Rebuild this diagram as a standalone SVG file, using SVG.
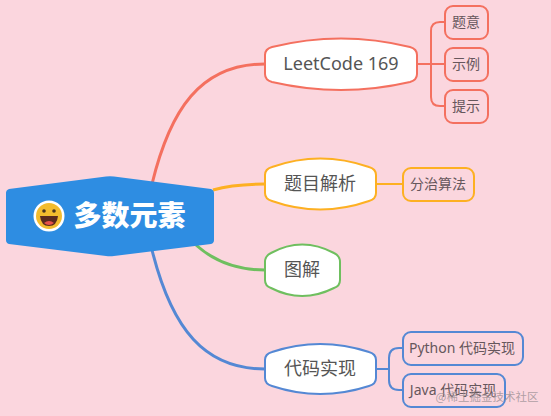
<svg xmlns="http://www.w3.org/2000/svg" width="551" height="416" viewBox="0 0 551 416">
<style>
text{font-family:"Noto Sans CJK SC","Liberation Sans",sans-serif;text-anchor:middle}
.n{fill:#fff;stroke-width:2}
.l{fill:#fbd6de;stroke-width:2}
.c{fill:none;stroke-width:3}
.b{fill:none;stroke-width:2}
.t1{font-family:"Noto Sans","Noto Sans CJK SC",sans-serif;font-size:18px;fill:#555}
.t2{font-family:"Noto Sans","Noto Sans CJK SC",sans-serif;font-size:14px;fill:#66575c}
.r{stroke:#f4705f}.y{stroke:#fdb022}.g{stroke:#6fbf5f}.u{stroke:#5488d4}
</style>
<rect width="551" height="416" fill="#fbd6de"/>
<g id="connectors">
<path class="c r" d="M152 184C170 110 200 64 265 64"/>
<path class="c y" d="M213 190C230 185 245 184 265 184"/>
<path class="c g" d="M196 245C215 262 240 270 265 270"/>
<path class="c u" d="M152 250C172 330 205 369 265 369"/>
<path class="b r" d="M418 64H445M431 64V31Q431 22 440 22H445M431 64V97Q431 106 440 106H445"/>
<path class="b y" d="M377 184H403"/>
<path class="b u" d="M377 369H389V358Q389 348 399 348H403M389 369V380Q389 390 399 390H403"/>
</g>
<g id="root">
<path d="M9 189L106 176.500Q110 176 114 176.500L211 189Q214 190 214 193V240Q214 243 211 244L114 256Q110 256.500 106 256L9 244Q6 243 6 240V193Q6 190 9 189Z" fill="#2e8de2"/>
<circle cx="49" cy="216" r="15.500" fill="#fff"/>
<circle cx="49" cy="216" r="13" fill="#f3bc2e"/>
<circle cx="44" cy="211" r="1.800" fill="#4a3520"/><circle cx="54" cy="211" r="1.800" fill="#4a3520"/>
<path d="M40 216H58Q57 226 49 226Q41 226 40 216Z" fill="#5b2a1e"/>
<path d="M44 223Q49 219 54 223Q49 227 44 223Z" fill="#e8524a"/>
<text x="129.500" y="226" font-size="28" font-weight="900" fill="#fff">多数元素</text>
</g>
<g id="n1">
<path class="n r" d="M272 47Q341 30 410 47Q417 49 417 55V74Q417 80 410 82Q341 98 272 82Q265 80 265 74V55Q265 49 272 47Z"/>
<text class="t1" x="341" y="70">LeetCode 169</text>
</g>
<g id="n2">
<path class="n y" d="M272 167Q320 150 369 167Q376 169 376 175V193Q376 199 369 201Q320 218 272 201Q265 199 265 193V175Q265 169 272 167Z"/>
<text class="t1" x="320" y="190">题目解析</text>
</g>
<g id="n3">
<path class="n g" d="M271 253Q302 236 334 253Q340 256 340 262V280Q340 286 334 288Q302 304 271 288Q265 286 265 280V262Q265 256 271 253Z"/>
<text class="t1" x="302" y="276">图解</text>
</g>
<g id="n4">
<path class="n u" d="M272 352Q320 336 369 352Q376 354 376 360V378Q376 384 369 386Q320 402 272 386Q265 384 265 378V360Q265 354 272 352Z"/>
<text class="t1" x="320" y="375">代码实现</text>
</g>
<g id="l1"><rect class="l r" x="445" y="6" width="43" height="33" rx="8"/><text class="t2" x="466" y="27">题意</text></g>
<g id="l2"><rect class="l r" x="445" y="48" width="43" height="33" rx="8"/><text class="t2" x="466" y="69">示例</text></g>
<g id="l3"><rect class="l r" x="445" y="90" width="43" height="33" rx="8"/><text class="t2" x="466" y="111">提示</text></g>
<g id="l4"><rect class="l y" x="403" y="168" width="71" height="33" rx="8"/><text class="t2" x="438" y="189">分治算法</text></g>
<g id="l5"><rect class="l u" x="403" y="332" width="120" height="33" rx="8"/><text class="t2" x="462" y="353">Python 代码实现</text></g>
<g id="l6"><rect class="l u" x="403" y="374" width="102" height="33" rx="8"/><text class="t2" x="453" y="395">Java 代码实现</text></g>
<text x="487" y="401" font-size="11.500" fill="#9a8f94" fill-opacity=".8">@稀土掘金技术社区</text>
</svg>
